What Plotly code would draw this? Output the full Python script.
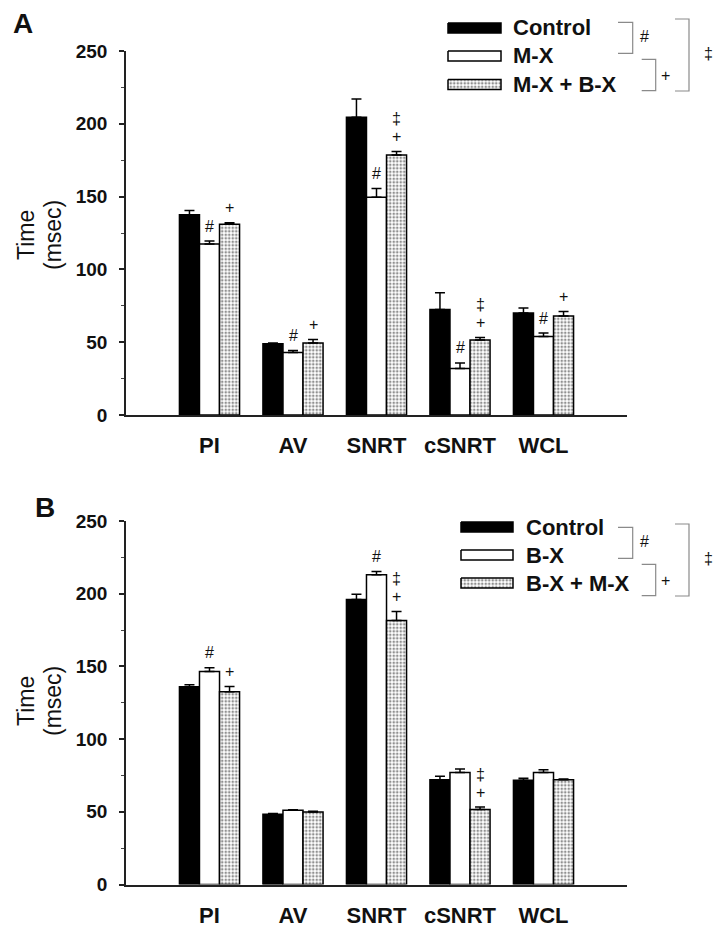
import plotly.graph_objects as go

categories = ["PI", "AV", "SNRT", "cSNRT", "WCL"]
y_ticks = [0, 50, 100, 150, 200, 250]

# Panel A
a_names = ["Control", "M-X", "M-X + B-X"]
a_control = [137.5, 49.0, 204.5, 72.5, 70.0]
a_control_err = [3.0, 0.5, 12.5, 11.5, 3.5]
a_mx = [117.5, 43.0, 149.5, 32.0, 54.0]
a_mx_err = [2.0, 1.3, 6.0, 3.8, 2.3]
a_mxbx = [131.0, 49.5, 178.5, 51.5, 68.0]
a_mxbx_err = [1.0, 2.3, 2.5, 1.8, 3.0]
a_sig_mid = ["#", "#", "#", "#", "#"]
a_sig_right = [["+"], ["+"], ["+", "‡"], ["+", "‡"], ["+"]]

# Panel B
b_names = ["Control", "B-X", "B-X + M-X"]
b_control = [136.0, 48.4, 196.0, 72.0, 71.7]
b_control_err = [1.4, 0.4, 3.6, 2.5, 1.4]
b_bx = [146.5, 51.0, 213.0, 77.0, 77.0]
b_bx_err = [2.5, 0.4, 2.3, 2.5, 1.9]
b_bxmx = [132.5, 49.8, 181.5, 51.5, 72.0]
b_bxmx_err = [3.7, 0.5, 6.2, 1.8, 0.5]
b_sig_mid = ["#", "", "#", "", ""]
b_sig_right = [["+"], [], ["+", "‡"], ["+", "‡"], []]

# page has an 8px body margin: figure is placed at (8, 8) in the 724x930 window
OFF = 8
W, H = 724 - OFF, 930 - OFF
FONT = "Liberation Sans, Arial, Helvetica, sans-serif"
INK = "#111111"
BARGAP = 0.28
xpos = list(range(len(categories)))

pattern = dict(shape=".", fgcolor="#222222", bgcolor="white", size=3.5, solidity=0.45)
styles = [
    dict(color="black", line=dict(color="black", width=1.5)),
    dict(color="white", line=dict(color="black", width=1.5)),
    dict(color="white", line=dict(color="black", width=1.5), pattern=pattern),
]


def px(x, y):
    """window pixel -> paper coords"""
    return (x - OFF) / W, 1 - (y - OFF) / H


fig = go.Figure()
annotations = []
shapes = []


def add_panel(xa, ya, names, series, errs, sig_mid, sig_right):
    for j, (vals, err) in enumerate(zip(series, errs)):
        fig.add_trace(go.Bar(
            x=xpos, y=vals, name=names[j], marker=styles[j],
            error_y=dict(type="data", array=err, arrayminus=[0] * len(err),
                         symmetric=False, color="black", thickness=1.5, width=5),
            xaxis=xa, yaxis=ya, showlegend=False, hoverinfo="skip",
        ))
    bw = (1 - BARGAP) / 3
    for i in xpos:
        if sig_mid[i]:
            annotations.append(dict(
                x=i, y=series[1][i] + errs[1][i], xref=xa, yref=ya,
                text=sig_mid[i], showarrow=False, xanchor="center", yanchor="middle",
                yshift=15, font=dict(family=FONT, size=16, color=INK)))
        for k, s in enumerate(sig_right[i]):
            annotations.append(dict(
                x=i + bw, y=series[2][i] + errs[2][i], xref=xa, yref=ya,
                text=s, showarrow=False, xanchor="center", yanchor="middle",
                yshift=15 + 18 * k, font=dict(family=FONT, size=16, color=INK)))


add_panel("x", "y", a_names, [a_control, a_mx, a_mxbx],
          [a_control_err, a_mx_err, a_mxbx_err], a_sig_mid, a_sig_right)
add_panel("x2", "y2", b_names, [b_control, b_bx, b_bxmx],
          [b_control_err, b_bx_err, b_bxmx_err], b_sig_mid, b_sig_right)


def legend(names, sw_x0, sw_x1, text_x, rows):
    for j, (nm, yc) in enumerate(zip(names, rows)):
        st = styles[j]
        fig.add_trace(go.Scatter(
            x=[sw_x0, sw_x1, sw_x1, sw_x0, sw_x0],
            y=[yc - 5, yc - 5, yc + 5, yc + 5, yc - 5],
            mode="lines", fill="toself", fillcolor=st["color"],
            fillpattern=st.get("pattern", None),
            line=dict(color="black", width=1.5),
            xaxis="x3", yaxis="y3", showlegend=False, hoverinfo="skip"))
        xx, yy = px(text_x, yc)
        annotations.append(dict(x=xx, y=yy, xref="paper", yref="paper", text=nm,
                                showarrow=False, xanchor="left", yanchor="middle",
                                font=dict(family=FONT, size=22, color=INK, weight="bold")))


legend(a_names, 448, 501, 511, [28, 56, 84.5])
legend(b_names, 461, 513, 524, [527, 555, 583])


def bracket(x0, x1, y0, y1):
    a0, b0 = px(x0, y0)
    a1, b1 = px(x1, y1)
    shapes.append(dict(type="path", xref="paper", yref="paper",
                       path=f"M {a0},{b0} L {a1},{b0} L {a1},{b1} L {a0},{b1}",
                       line=dict(color="#8a8a8a", width=1.2)))


def text_at(x, y, t, size, weight="normal", angle=0):
    xx, yy = px(x, y)
    annotations.append(dict(x=xx, y=yy, xref="paper", yref="paper", text=t, showarrow=False,
                            xanchor="center", yanchor="middle", textangle=angle,
                            font=dict(family=FONT, size=size, color=INK, weight=weight)))


for off in (0, 505):
    bracket(618, 632.7, 22.3 + off, 53.3 + off)
    bracket(641.7, 655.7, 59.3 + off, 90.7 + off)
    bracket(675, 689, 19 + off, 91 + off)
    text_at(644, 36 + off, "#", 16)
    text_at(665, 75 + off, "+", 16)
    text_at(708, 53.5 + off, "‡", 16)

text_at(23, 23, "A", 28, "bold")
text_at(45, 507, "B", 28, "bold")

for yc in (235, 701):
    text_at(26, yc, "Time", 23, angle=-90)
    text_at(53, yc, "(msec)", 23, angle=-90)

xa0, _ = px(126, 0)
xa1, _ = px(627, 0)
_, ya_lo = px(0, 415)
_, ya_hi = px(0, 51)
_, yb_lo = px(0, 884.5)
_, yb_hi = px(0, 521)

common_x = dict(domain=[xa0, xa1], range=[-1, 5], tickvals=xpos, ticktext=categories,
                showline=True, linecolor="#222", linewidth=1.5, ticks="",
                showgrid=False, zeroline=False, ticklabelstandoff=10, automargin=False,
                tickfont=dict(family=FONT, size=22, color=INK, weight="bold"))
common_y = dict(range=[0, 250], tickvals=y_ticks, showline=True, linecolor="#222",
                linewidth=1.5, ticks="outside", ticklen=5, tickwidth=1.5, tickcolor="#222",
                minor=dict(dtick=25, ticks="outside", ticklen=3, tickwidth=1, tickcolor="#444"),
                showgrid=False, zeroline=False, ticklabelstandoff=8, automargin=False,
                tickfont=dict(family=FONT, size=19, color=INK, weight="bold"))

fig.update_layout(
    width=W, height=H, margin=dict(l=0, r=0, t=0, b=0, pad=0, autoexpand=False),
    paper_bgcolor="white", plot_bgcolor="rgba(0,0,0,0)",
    barmode="group", bargap=BARGAP, bargroupgap=0,
    xaxis=dict(anchor="y", **common_x),
    yaxis=dict(anchor="x", domain=[ya_lo, ya_hi], **common_y),
    xaxis2=dict(anchor="y2", **common_x),
    yaxis2=dict(anchor="x2", domain=[yb_lo, yb_hi], **common_y),
    xaxis3=dict(anchor="y3", domain=[0, 1], range=[OFF, OFF + W], visible=False,
                fixedrange=True, automargin=False),
    yaxis3=dict(anchor="x3", domain=[0, 1], range=[OFF + H, OFF], visible=False,
                fixedrange=True, automargin=False),
    annotations=annotations, shapes=shapes,
)

fig.write_html("out.html")
